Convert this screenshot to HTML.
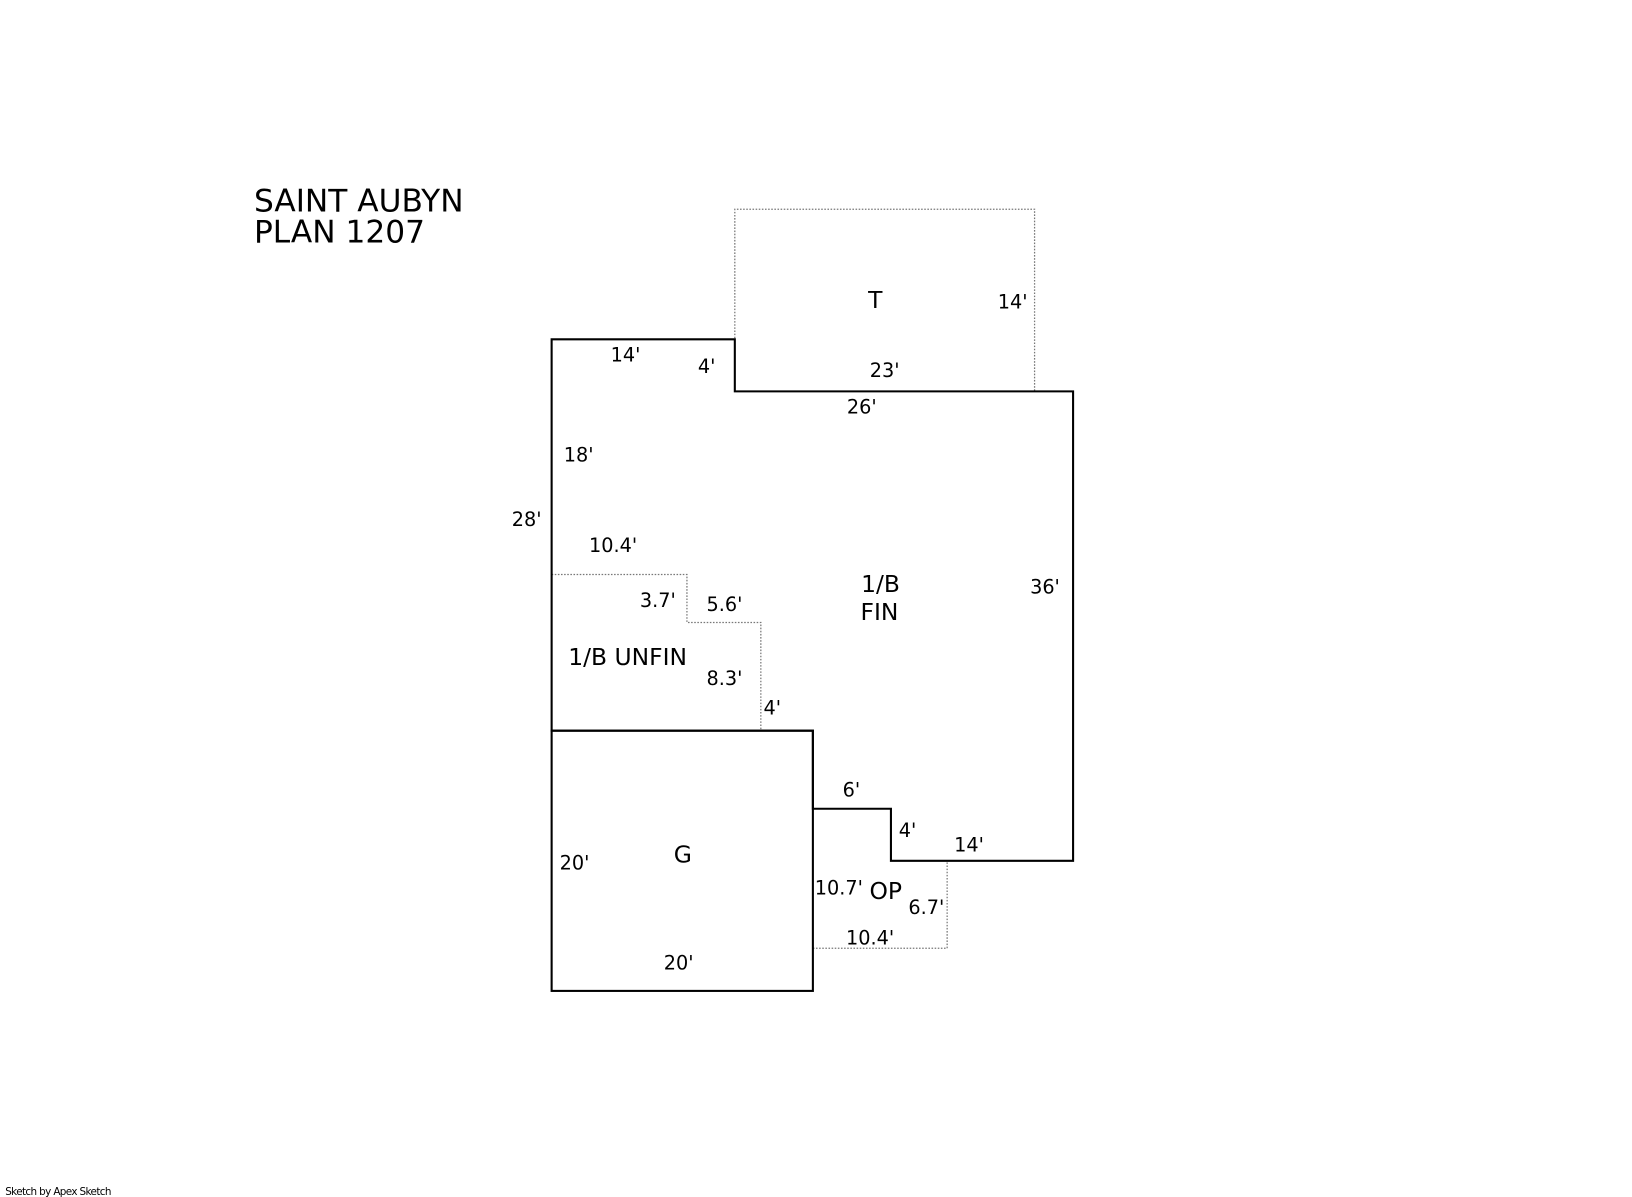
<!DOCTYPE html>
<html><head><meta charset="utf-8"><style>
html,body{margin:0;padding:0;background:#fff;}
svg{display:block;}
text{font-family:"DejaVu Sans","Liberation Sans",sans-serif;fill:#000;}
</style></head><body>
<svg width="1632" height="1197" viewBox="0 0 1568 1150" preserveAspectRatio="none" xmlns="http://www.w3.org/2000/svg">
<rect width="1568" height="1150" fill="#fff"/>
<g fill="none" stroke="#777" stroke-width="1.2" stroke-dasharray="1.5,1.5">
<polyline points="706,376 706,201 994,201 994,376"/>
<polyline points="530,552 660,552 660,598 731,598 731,702"/>
<polyline points="781,911 910,911 910,827"/>
</g>
<g fill="none" stroke="#000" stroke-width="2">
<polygon points="530,326 706,326 706,376 1031,376 1031,827 856,827 856,777 781,777 781,702 530,702"/>
<rect x="530" y="702" width="251" height="250"/>
</g>
<text x="244" y="203" font-size="30">SAINT AUBYN</text>
<text x="244" y="233" font-size="30">PLAN 1207</text>
<g font-size="18.5" text-anchor="middle" dominant-baseline="central">
<text x="601" y="341">14'</text>
<text x="679" y="352">4'</text>
<text x="973" y="290">14'</text>
<text x="850" y="356">23'</text>
<text x="828" y="391">26'</text>
<text x="556" y="437">18'</text>
<text x="506" y="499">28'</text>
<text x="589" y="524">10.4'</text>
<text x="1004" y="564">36'</text>
<text x="632" y="577">3.7'</text>
<text x="696" y="581">5.6'</text>
<text x="696" y="652">8.3'</text>
<text x="742" y="680">4'</text>
<text x="818" y="759">6'</text>
<text x="872" y="798">4'</text>
<text x="931" y="812">14'</text>
<text x="552" y="829">20'</text>
<text x="806" y="853">10.7'</text>
<text x="890" y="872">6.7'</text>
<text x="836" y="901">10.4'</text>
<text x="652" y="925">20'</text>
</g>
<g font-size="22.5" text-anchor="middle" dominant-baseline="central">
<text x="846" y="561">1/B</text>
<text x="845" y="588">FIN</text>
<text x="603" y="631">1/B UNFIN</text>
<text x="656" y="821">G</text>
<text x="851" y="856">OP</text>
<text x="841" y="288">T</text>
</g>
<text x="5" y="1148" font-size="10" letter-spacing="-0.6">Sketch by Apex Sketch</text>
</svg>
</body></html>
